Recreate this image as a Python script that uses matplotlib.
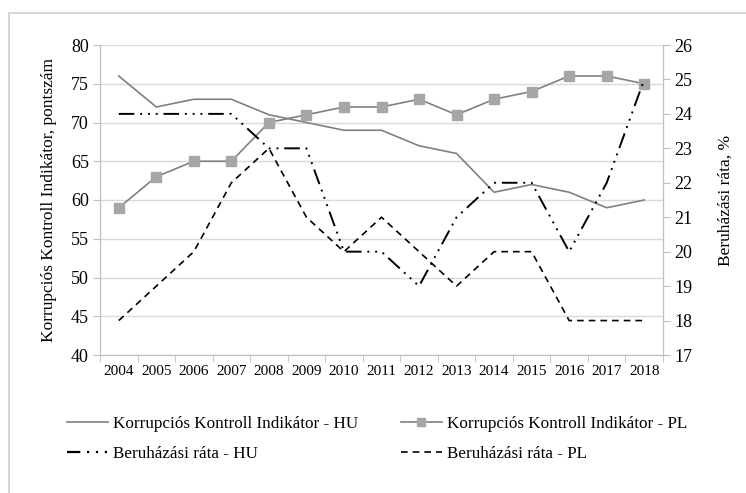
import matplotlib
matplotlib.use("Agg")
import matplotlib.pyplot as plt
from matplotlib.lines import Line2D
from matplotlib.patches import Rectangle

plt.rcParams['font.family'] = ['Liberation Serif', 'DejaVu Serif']

years = [str(y) for y in range(2004, 2019)]
kki_hu = [76, 72, 73, 73, 71, 70, 69, 69, 67, 66, 61, 62, 61, 59, 60]
kki_pl = [59, 63, 65, 65, 70, 71, 72, 72, 73, 71, 73, 74, 76, 76, 75]
rate_hu = [24, 24, 24, 24, 23, 23, 20, 20, 19, 21, 22, 22, 20, 22, 25]
rate_pl = [18, 19, 20, 22, 23, 21, 20, 21, 20, 19, 20, 20, 18, 18, 18]

labels = ["Korrupciós Kontroll Indikátor - HU", "Korrupciós Kontroll Indikátor - PL",
          "Beruházási ráta - HU", "Beruházási ráta - PL"]

W, H = 746, 493
fig = plt.figure(figsize=(W/100, H/100), dpi=100)
ax = fig.add_axes([100/W, 1-355/H, (663-100)/W, (355-45)/H])
ax2 = ax.twinx()

x = list(range(len(years)))
axis_col = '#bfbfbf'
grid_col = '#d9d9d9'
hu_dash = (8, 3, 1, 3, 1, 3, 1, 3)

ax.set_xlim(-0.5, len(years)-0.5)
ax.set_ylim(40, 80)
ax.set_yticks(range(40, 81, 5))
ax.yaxis.grid(True, color=grid_col, lw=1)
ax.set_axisbelow(True)

ax.plot(x, kki_hu, color='#808080', lw=1.2, zorder=3)
ax.plot(x, kki_pl, color='#808080', lw=1.2, marker='s', ms=7.5,
        markerfacecolor='#a6a6a6', markeredgecolor='#a6a6a6', zorder=3)

ax2.set_ylim(17, 26)
ax2.set_yticks(range(17, 27))
ax2.plot(x, rate_hu, color='black', lw=1.4, dashes=hu_dash)
ax2.plot(x, rate_pl, color='black', lw=1.2, dashes=(4, 3))

ax.set_xticks(x)
ax.set_xticklabels(years)
ax.set_xticks([i - 0.5 for i in range(len(years)+1)], minor=True)
ax.tick_params(axis='x', which='major', length=0, pad=7, labelsize=11)
ax.tick_params(axis='x', which='minor', length=5, color=axis_col, direction='out')
ax.tick_params(axis='y', length=5, color=axis_col, labelsize=13, pad=3)
ax2.tick_params(axis='y', length=5, color=axis_col, labelsize=13, pad=3)

for a in (ax, ax2):
    a.spines['top'].set_visible(False)
    for s in ('left', 'right', 'bottom'):
        a.spines[s].set_color(axis_col)

ax.set_ylabel("Korrupciós Kontroll Indikátor, pontszám", fontsize=12.5, labelpad=10)
ax2.set_ylabel("Beruházási ráta, %", fontsize=12.5, labelpad=18)

h_kki_hu = Line2D([], [], color='#808080', lw=1.2)
h_kki_pl = Line2D([], [], color='#808080', lw=1.2, marker='s', ms=6,
                  markerfacecolor='#a6a6a6', markeredgecolor='#a6a6a6')
h_rate_hu = Line2D([], [], color='black', lw=1.6, dashes=(6, 3, 1, 3, 1, 3, 1, 3))
h_rate_pl = Line2D([], [], color='black', lw=1.2, dashes=(4, 3))

fig.legend([h_kki_hu, h_rate_hu, h_kki_pl, h_rate_pl],
           [labels[0], labels[2], labels[1], labels[3]],
           loc='upper left', bbox_to_anchor=(67/W, 1-416/H),
           ncol=2, frameon=False, fontsize=12.3, handlelength=2.4,
           handletextpad=0.3, columnspacing=2.5, labelspacing=0.8, borderpad=0,
           borderaxespad=0)

fig.patches.append(Rectangle((9/W, -0.1), 1.1, 1.1 - 13/H, transform=fig.transFigure,
                             fill=False, edgecolor='#d0d0d0', lw=1.2))

fig.savefig("out.png", dpi=100)
